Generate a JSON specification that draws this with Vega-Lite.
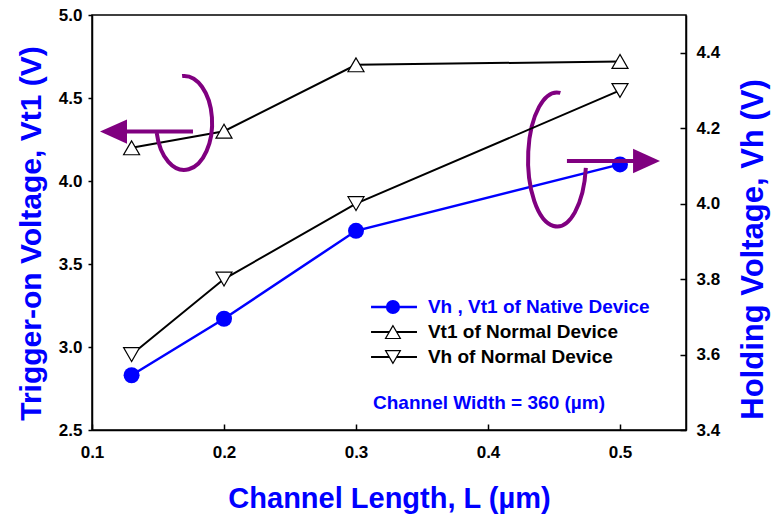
{
  "$schema": "https://vega.github.io/schema/vega-lite/v6.json",
  "width": 594,
  "height": 415,
  "autosize": {"type": "none"},
  "padding": {"left": 92, "top": 15, "right": 87, "bottom": 86},
  "background": "white",
  "config": {
    "font": "Liberation Sans",
    "view": {"stroke": "black", "strokeWidth": 1.5},
    "axis": {
      "grid": false,
      "labelFlush": false,
      "domainColor": "black",
      "domainWidth": 1.5,
      "tickColor": "black",
      "tickWidth": 1.5,
      "labelFont": "Liberation Sans",
      "labelFontWeight": "bold",
      "labelFontSize": 17,
      "labelColor": "black",
      "titleFont": "Liberation Sans",
      "titleFontWeight": "bold",
      "titleColor": "#0000ff"
    }
  },
  "datasets": {
    "series": [
      {"series": "native", "L": 0.13, "V": 2.83},
      {"series": "native", "L": 0.2, "V": 3.17},
      {"series": "native", "L": 0.3, "V": 3.7},
      {"series": "native", "L": 0.5, "V": 4.1},
      {"series": "vt1", "L": 0.13, "V": 4.2},
      {"series": "vt1", "L": 0.2, "V": 4.3},
      {"series": "vt1", "L": 0.3, "V": 4.7},
      {"series": "vt1", "L": 0.5, "V": 4.72},
      {"series": "vh", "L": 0.13, "V": 3.6},
      {"series": "vh", "L": 0.2, "V": 3.8},
      {"series": "vh", "L": 0.3, "V": 4.0},
      {"series": "vh", "L": 0.5, "V": 4.3}
    ]
  },
  "layer": [
    {
      "layer": [
        {
          "data": {"name": "series"},
          "transform": [{"filter": "datum.series == 'native'"}],
          "mark": {"type": "line", "color": "#0000ff", "strokeWidth": 2.5},
          "encoding": {
            "x": {
              "field": "L",
              "type": "quantitative",
              "title": "Channel Length, L (µm)",
              "scale": {"domain": [0.1, 0.55], "nice": false, "zero": false},
              "axis": {
                "values": [0.1, 0.2, 0.3, 0.4, 0.5],
                "format": ".1f",
                "tickSize": -6,
                "labelPadding": 20,
                "labelFlush": false,
                "titleFontSize": 29,
                "titlePadding": 24
              }
            },
            "y": {
              "field": "V",
              "type": "quantitative",
              "title": "Trigger-on Voltage, Vt1 (V)",
              "scale": {"domain": [2.5, 5.0], "nice": false, "zero": false},
              "axis": {
                "orient": "left",
                "values": [2.5, 3.0, 3.5, 4.0, 4.5, 5.0],
                "format": ".1f",
                "tickSize": 4,
                "labelPadding": 6,
                "titleFontSize": 30,
                "titlePadding": 12,
                "titleY": 218
              }
            }
          }
        },
        {
          "data": {"name": "series"},
          "transform": [{"filter": "datum.series == 'native'"}],
          "mark": {"type": "point", "shape": "circle", "filled": true, "color": "#0000ff", "size": 256, "opacity": 1},
          "encoding": {"x": {"field": "L", "type": "quantitative"}, "y": {"field": "V", "type": "quantitative"}}
        },
        {
          "data": {"name": "series"},
          "transform": [{"filter": "datum.series == 'vt1'"}],
          "mark": {"type": "line", "color": "black", "strokeWidth": 2},
          "encoding": {"x": {"field": "L", "type": "quantitative"}, "y": {"field": "V", "type": "quantitative"}}
        },
        {
          "data": {"name": "series"},
          "transform": [{"filter": "datum.series == 'vt1'"}],
          "mark": {"type": "point", "shape": "triangle-up", "filled": true, "fill": "white", "stroke": "black", "strokeWidth": 1.2, "size": 256, "opacity": 1},
          "encoding": {"x": {"field": "L", "type": "quantitative"}, "y": {"field": "V", "type": "quantitative"}}
        },
        {
          "data": {"values": [{"note": "left arrow"}]},
          "mark": {"type": "rule", "color": "#800080", "strokeWidth": 4},
          "encoding": {"x": {"datum": 0.1765}, "x2": {"datum": 0.125}, "y": {"datum": 4.298}}
        },
        {
          "data": {"values": [{"note": "left arrow head"}]},
          "mark": {"type": "point", "shape": "M-1,0L1,-0.9L1,0.9Z", "filled": true, "color": "#800080", "size": 729, "opacity": 1},
          "encoding": {"x": {"datum": 0.1163}, "y": {"datum": 4.298}}
        },
        {
          "data": {"values": [{"note": "left loop"}]},
          "mark": {"type": "point", "shape": "M-0.04,-1A0.596,1 0 1 1 -0.58,0.21", "filled": false, "stroke": "#800080", "strokeWidth": 4, "size": 8836, "opacity": 1},
          "encoding": {"x": {"datum": 0.1697}, "y": {"datum": 4.349}}
        },
        {
          "data": {"values": [{"note": "right arrow"}]},
          "mark": {"type": "rule", "color": "#800080", "strokeWidth": 4},
          "encoding": {"x": {"datum": 0.4598}, "x2": {"datum": 0.512}, "y": {"datum": 4.1205}}
        },
        {
          "data": {"values": [{"note": "right arrow head"}]},
          "mark": {"type": "point", "shape": "M1,0L-1,-0.9L-1,0.9Z", "filled": true, "color": "#800080", "size": 729, "opacity": 1},
          "encoding": {"x": {"datum": 0.5201}, "y": {"datum": 4.1205}}
        },
        {
          "data": {"values": [{"note": "right loop"}]},
          "mark": {"type": "point", "shape": "M0.05,-1A0.433,1 0 1 0 0.43,0.12", "filled": false, "stroke": "#800080", "strokeWidth": 4, "size": 17956, "opacity": 1},
          "encoding": {"x": {"datum": 0.4523}, "y": {"datum": 4.127}}
        },
        {
          "data": {"values": [{"label": "Vh , Vt1 of Native Device"}]},
          "layer": [
            {"mark": {"type": "rule", "color": "#0000ff", "strokeWidth": 2.5},
             "encoding": {"x": {"datum": 0.3114}, "x2": {"datum": 0.3462}, "y": {"datum": 3.241}}},
            {"mark": {"type": "point", "shape": "circle", "filled": true, "color": "#0000ff", "size": 200, "opacity": 1},
             "encoding": {"x": {"datum": 0.328}, "y": {"datum": 3.241}}},
            {"mark": {"type": "text", "align": "left", "baseline": "middle", "font": "Liberation Sans", "fontWeight": "bold", "fontSize": 19, "color": "#0000ff"},
             "encoding": {"x": {"datum": 0.3545}, "y": {"datum": 3.241}, "text": {"field": "label"}}}
          ]
        },
        {
          "data": {"values": [{"label": "Vt1 of Normal Device"}]},
          "layer": [
            {"mark": {"type": "rule", "color": "black", "strokeWidth": 2},
             "encoding": {"x": {"datum": 0.3114}, "x2": {"datum": 0.3462}, "y": {"datum": 3.09}}},
            {"mark": {"type": "point", "shape": "triangle-up", "filled": true, "fill": "white", "stroke": "black", "strokeWidth": 1.2, "size": 220, "opacity": 1},
             "encoding": {"x": {"datum": 0.328}, "y": {"datum": 3.09}}},
            {"mark": {"type": "text", "align": "left", "baseline": "middle", "font": "Liberation Sans", "fontWeight": "bold", "fontSize": 19, "color": "black"},
             "encoding": {"x": {"datum": 0.3545}, "y": {"datum": 3.09}, "text": {"field": "label"}}}
          ]
        },
        {
          "data": {"values": [{"label": "Vh of Normal Device"}]},
          "layer": [
            {"mark": {"type": "rule", "color": "black", "strokeWidth": 2},
             "encoding": {"x": {"datum": 0.3114}, "x2": {"datum": 0.3462}, "y": {"datum": 2.94}}},
            {"mark": {"type": "point", "shape": "triangle-down", "filled": true, "fill": "white", "stroke": "black", "strokeWidth": 1.2, "size": 220, "opacity": 1},
             "encoding": {"x": {"datum": 0.328}, "y": {"datum": 2.94}}},
            {"mark": {"type": "text", "align": "left", "baseline": "middle", "font": "Liberation Sans", "fontWeight": "bold", "fontSize": 19, "color": "black"},
             "encoding": {"x": {"datum": 0.3545}, "y": {"datum": 2.94}, "text": {"field": "label"}}}
          ]
        },
        {
          "data": {"values": [{"label": "Channel Width = 360 (µm)"}]},
          "mark": {"type": "text", "align": "left", "baseline": "middle", "font": "Liberation Sans", "fontWeight": "bold", "fontSize": 19, "color": "#0000ff"},
          "encoding": {"x": {"datum": 0.3129}, "y": {"datum": 2.663}, "text": {"field": "label"}}
        }
      ]
    },
    {
      "data": {"name": "series"},
      "transform": [{"filter": "datum.series == 'vh'"}],
      "encoding": {
        "x": {"field": "L", "type": "quantitative"},
        "y": {
          "field": "V",
          "type": "quantitative",
          "title": "Holding Voltage, Vh (V)",
          "scale": {"domain": [3.4, 4.5], "nice": false, "zero": false},
          "axis": {
            "orient": "right",
            "values": [3.4, 3.6, 3.8, 4.0, 4.2, 4.4],
            "format": ".1f",
            "tickSize": -6,
            "labelPadding": 16,
            "labelFlush": false,
            "titleFontSize": 31,
            "titleAngle": 270,
            "titlePadding": 50,
            "titleY": 234
          }
        }
      },
      "layer": [
        {"mark": {"type": "line", "color": "black", "strokeWidth": 2}},
        {"mark": {"type": "point", "shape": "triangle-down", "filled": true, "fill": "white", "stroke": "black", "strokeWidth": 1.2, "size": 256, "opacity": 1}}
      ]
    }
  ],
  "resolve": {"scale": {"y": "independent"}}
}
